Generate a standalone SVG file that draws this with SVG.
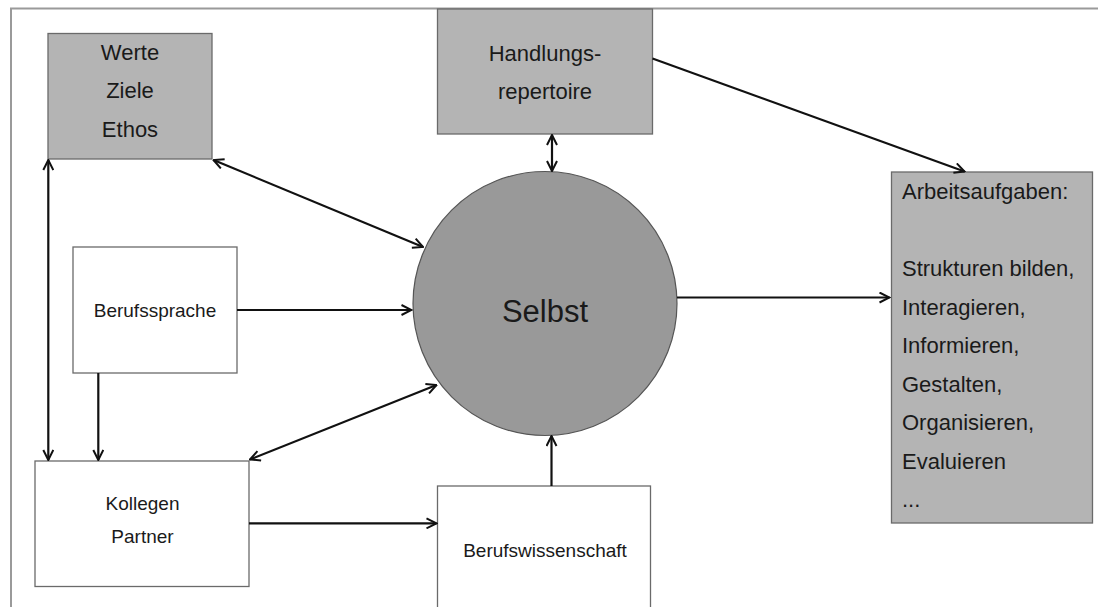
<svg xmlns="http://www.w3.org/2000/svg" width="1098" height="607" viewBox="0 0 1098 607">
<style>
.box{stroke:#6a6a6a;stroke-width:1.3}
.grey{fill:#b4b4b4}
.white{fill:#ffffff}
.t{font-family:"Liberation Sans",Arial,sans-serif;fill:#1a1a1a}
.c{text-anchor:middle}
.conn line{stroke:#111;stroke-width:2.2;fill:none}
</style>
<defs>
<marker id="ah" viewBox="0 0 12 12" refX="11" refY="6" markerWidth="12" markerHeight="12" orient="auto-start-reverse" markerUnits="userSpaceOnUse">
<path d="M1,1 L11,6 L1,11" fill="none" stroke="#111" stroke-width="2"/>
</marker>
</defs>
<rect width="1098" height="607" fill="#ffffff"/>
<path d="M11,607 V8.5 H1098" fill="none" stroke="#9a9a9a" stroke-width="2"/>

<g id="werte">
<rect class="box grey" x="48" y="33.5" width="164" height="125.5"/>
<text class="t c" x="130" y="60" font-size="22">Werte</text>
<text class="t c" x="130" y="98.3" font-size="22">Ziele</text>
<text class="t c" x="130" y="136.7" font-size="22">Ethos</text>
</g>
<g id="handlungsrepertoire">
<rect class="box grey" x="437.5" y="9" width="215" height="125"/>
<text class="t c" x="545" y="61" font-size="22">Handlungs-</text>
<text class="t c" x="545" y="98.5" font-size="22">repertoire</text>
</g>
<g id="selbst">
<circle cx="545" cy="303.5" r="132" fill="#999999" stroke="#555" stroke-width="1.2"/>
<text class="t c" x="545" y="322" font-size="31">Selbst</text>
</g>
<g id="arbeitsaufgaben">
<rect class="box grey" x="891.5" y="172" width="201" height="351"/>
<text class="t" x="902" y="199.3" font-size="22">Arbeitsaufgaben:</text>
<text class="t" x="902" y="276.3" font-size="22">Strukturen bilden,</text>
<text class="t" x="902" y="314.8" font-size="22">Interagieren,</text>
<text class="t" x="902" y="353.3" font-size="22">Informieren,</text>
<text class="t" x="902" y="391.8" font-size="22">Gestalten,</text>
<text class="t" x="902" y="430.3" font-size="22">Organisieren,</text>
<text class="t" x="902" y="468.8" font-size="22">Evaluieren</text>
<text class="t" x="902" y="507.3" font-size="22">...</text>
</g>
<g id="berufssprache">
<rect class="box white" x="73" y="247" width="164" height="126"/>
<text class="t c" x="155" y="317" font-size="19">Berufssprache</text>
</g>
<g id="kollegen">
<rect class="box white" x="35" y="461" width="214" height="125.5"/>
<text class="t c" x="142.5" y="510" font-size="19">Kollegen</text>
<text class="t c" x="142.5" y="543" font-size="19">Partner</text>
</g>
<g id="berufswissenschaft">
<rect class="box white" x="437.5" y="486" width="213" height="125"/>
<text class="t c" x="545" y="557" font-size="19">Berufswissenschaft</text>
</g>

<g class="conn">
<line x1="48.3" y1="160" x2="48.3" y2="460" marker-start="url(#ah)" marker-end="url(#ah)"/>
<line x1="98.3" y1="373" x2="98.3" y2="460" marker-end="url(#ah)"/>
<line x1="213.5" y1="160" x2="423" y2="247" marker-start="url(#ah)" marker-end="url(#ah)"/>
<line x1="237" y1="310" x2="411.5" y2="310" marker-end="url(#ah)"/>
<line x1="250" y1="459.5" x2="436.5" y2="385" marker-start="url(#ah)" marker-end="url(#ah)"/>
<line x1="249" y1="523.3" x2="436.5" y2="523.3" marker-end="url(#ah)"/>
<line x1="551.5" y1="486" x2="551.5" y2="436" marker-end="url(#ah)"/>
<line x1="552" y1="135" x2="552" y2="171" marker-start="url(#ah)" marker-end="url(#ah)"/>
<line x1="652.5" y1="58.5" x2="964.5" y2="171.5" marker-end="url(#ah)"/>
<line x1="677" y1="297.5" x2="889.5" y2="297.5" marker-end="url(#ah)"/>
</g>
</svg>
